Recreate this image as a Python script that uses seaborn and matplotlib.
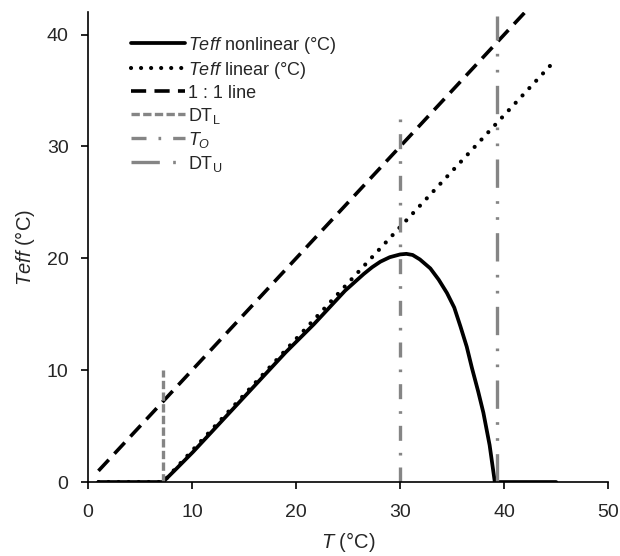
import matplotlib
matplotlib.use("Agg")
import matplotlib.pyplot as plt
import seaborn as sns

# ---- data ----
t_nonlin = [1, 7.2, 8.5, 10.1, 13.3, 16.5, 19.0, 21.7, 24.7, 26.5, 27.3, 28.1, 29.0, 30.0, 30.6,
            31.2, 31.9, 32.9, 33.7, 34.5, 35.2, 35.8, 36.4, 36.9, 37.5, 38.0, 38.6, 39.1, 45]
teff_nonlin = [0, 0, 1.2, 2.7, 5.9, 9.1, 11.6, 14.1, 17.1, 18.6, 19.2, 19.7, 20.1, 20.35, 20.4,
               20.3, 19.9, 19.1, 18.1, 16.9, 15.6, 13.9, 12.1, 10.2, 8.1, 6.2, 3.3, 0, 0]

t_lin = [1, 7.2, 44.5]
teff_lin = [0, 0, 37.3]

t_one = [1, 45]
teff_one = [1, 45]

dtl_x = [7.2, 7.2]
dtl_y = [0, 10]
to_x = [30, 30]
to_y = [0, 33]
dtu_x = [39.3, 39.3]
dtu_y = [0, 41.7]

x_ticks = [0, 10, 20, 30, 40, 50]
y_ticks = [0, 10, 20, 30, 40]

sns.set_theme(style="ticks")
plt.rcParams["font.family"] = ["Liberation Sans", "DejaVu Sans"]
plt.rcParams["mathtext.fontset"] = "custom"
plt.rcParams["mathtext.rm"] = "Liberation Sans"
plt.rcParams["mathtext.it"] = "Liberation Sans:italic"
plt.rcParams["mathtext.bf"] = "Liberation Sans:bold"

fig = plt.figure(figsize=(6.2, 5.56), dpi=100)
ax = fig.add_axes([0.142, 0.133, 0.839, 0.845])

gray = "#858585"

sns.lineplot(x=t_nonlin, y=teff_nonlin, ax=ax, color="black", lw=2.7,
             estimator=None, sort=False, label=r"$\mathit{Teff}$ nonlinear (°C)")
sns.lineplot(x=t_lin, y=teff_lin, ax=ax, color="black", lw=3.0,
             linestyle=(0, (0.01, 2.4)), dash_capstyle="round",
             estimator=None, sort=False, label=r"$\mathit{Teff}$ linear (°C)")
sns.lineplot(x=t_one, y=teff_one, ax=ax, color="black", lw=2.6,
             linestyle=(0, (4.2, 2.3)),
             estimator=None, sort=False, label="1 : 1 line")
sns.lineplot(x=dtl_x, y=dtl_y, ax=ax, color=gray, lw=2.4,
             linestyle=(0, (2.5, 1.0)),
             estimator=None, sort=False, label=r"DT$_\mathrm{L}$")
sns.lineplot(x=to_x, y=to_y, ax=ax, color=gray, lw=2.4,
             linestyle=(0, (4.5, 3.6, 0.8, 3.6)),
             estimator=None, sort=False, label=r"$T_O$")
sns.lineplot(x=dtu_x, y=dtu_y, ax=ax, color=gray, lw=2.4,
             linestyle=(0, (8.5, 4, 0.8, 4, 0.8, 4)),
             estimator=None, sort=False, label=r"DT$_\mathrm{U}$")

ax.set_xlim(0, 50)
ax.set_ylim(0, 42)
ax.set_xticks(x_ticks)
ax.set_yticks(y_ticks)
ax.tick_params(axis="both", labelsize=14, length=5, width=1.2, color="black",
               direction="out", pad=9)
ax.tick_params(axis="x", pad=11)
for s in ["left", "bottom"]:
    ax.spines[s].set_color("black")
    ax.spines[s].set_linewidth(1.2)
sns.despine(ax=ax)

ax.set_xlabel(r"$\mathit{T}$ (°C)", fontsize=14.5, labelpad=6)
ax.set_ylabel(r"$\mathit{Teff}$ (°C)", fontsize=14.5, labelpad=7)

leg = ax.legend(loc="upper left", bbox_to_anchor=(0.083, 0.952), frameon=False,
                fontsize=13, handlelength=3.0, handletextpad=0.15,
                labelspacing=0.22, borderaxespad=0, borderpad=0)

fig.savefig("out.png", dpi=100, facecolor="white")
